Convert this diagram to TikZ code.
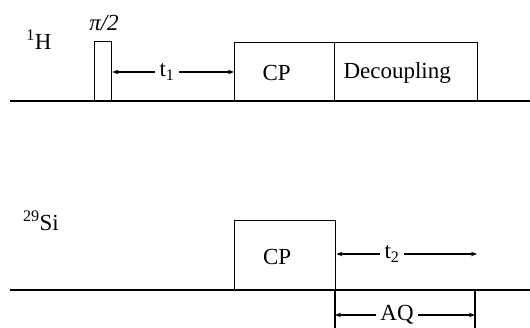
\documentclass[tikz,border=0pt]{standalone}
\usepackage{fontspec}
\setmainfont{Liberation Serif}
\usetikzlibrary{arrows.meta}
\begin{document}
\begin{tikzpicture}[x=1pt,y=1pt,
  base/.style={line width=1.6pt},
  pbox/.style={draw,line width=1.4pt,inner sep=0pt,anchor=south west},
  lbl/.style={font=\fontsize{23}{27}\selectfont,inner sep=0pt},
  tlbl/.style={font=\fontsize{23}{27}\selectfont,inner sep=4pt},
  arr/.style={line width=1.1pt,-{Stealth[length=6pt,width=4.5pt]}},
  vline/.style={line width=1.4pt}]
\useasboundingbox (0,0) rectangle (530,328);
% baselines
\coordinate (hL) at (10,227);
\coordinate (hR) at (530,227);
\coordinate (sL) at (10,38);
\coordinate (sR) at (530,38);
\draw[base] (hL) -- (hR);
\draw[base] (sL) -- (sR);
% 1H channel
\node[lbl] (H) at (39,288) {\textsuperscript{1}H};
\node[pbox,minimum width=17pt,minimum height=59pt] (p90) at (94,227) {};
\node[lbl] (pi) at (104,305) {\textit{π/2}};
\node[pbox,minimum width=100pt,minimum height=58pt] (cpH) at (234,227) {};
\node[lbl] at ([xshift=-8pt,yshift=-2pt]cpH.center) (cpHl) {CP};
\node[pbox,minimum width=143pt,minimum height=58pt] (dec) at (334,227) {};
\node[lbl] at ([xshift=-9pt,yshift=-2pt]dec.center) (decl) {Decoupling};
\node[tlbl] (t1) at (167,256) {t\textsubscript{1}};
\draw[arr] (t1.west) -- (p90.east |- t1.west);
\draw[arr] (t1.east) -- (cpH.west |- t1.east);
% 29Si channel
\node[lbl] (Si) at (41,107) {\textsuperscript{29}Si};
\node[pbox,minimum width=101pt,minimum height=69pt] (cpS) at (234,38) {};
\node[lbl] at ([xshift=-8pt,yshift=-2pt]cpS.center) (cpSl) {CP};
\node[tlbl] (t2) at (392,74) {t\textsubscript{2}};
\coordinate (t2end) at (477,74);
\draw[arr] (t2.west) -- (cpS.east |- t2.west);
\draw[arr] (t2.east) -- (t2end);
% acquisition
\coordinate (aq1t) at (335,38);
\coordinate (aq1b) at (335,0);
\coordinate (aq2t) at (475,38);
\coordinate (aq2b) at (475,0);
\draw[vline] (aq1t) -- (aq1b);
\draw[vline] (aq2t) -- (aq2b);
\node[tlbl] (aq) at (397,13) {AQ};
\draw[arr] (aq.west) -- (aq1t |- aq.west);
\draw[arr] (aq.east) -- (aq2t |- aq.east);
\end{tikzpicture}
\end{document}
